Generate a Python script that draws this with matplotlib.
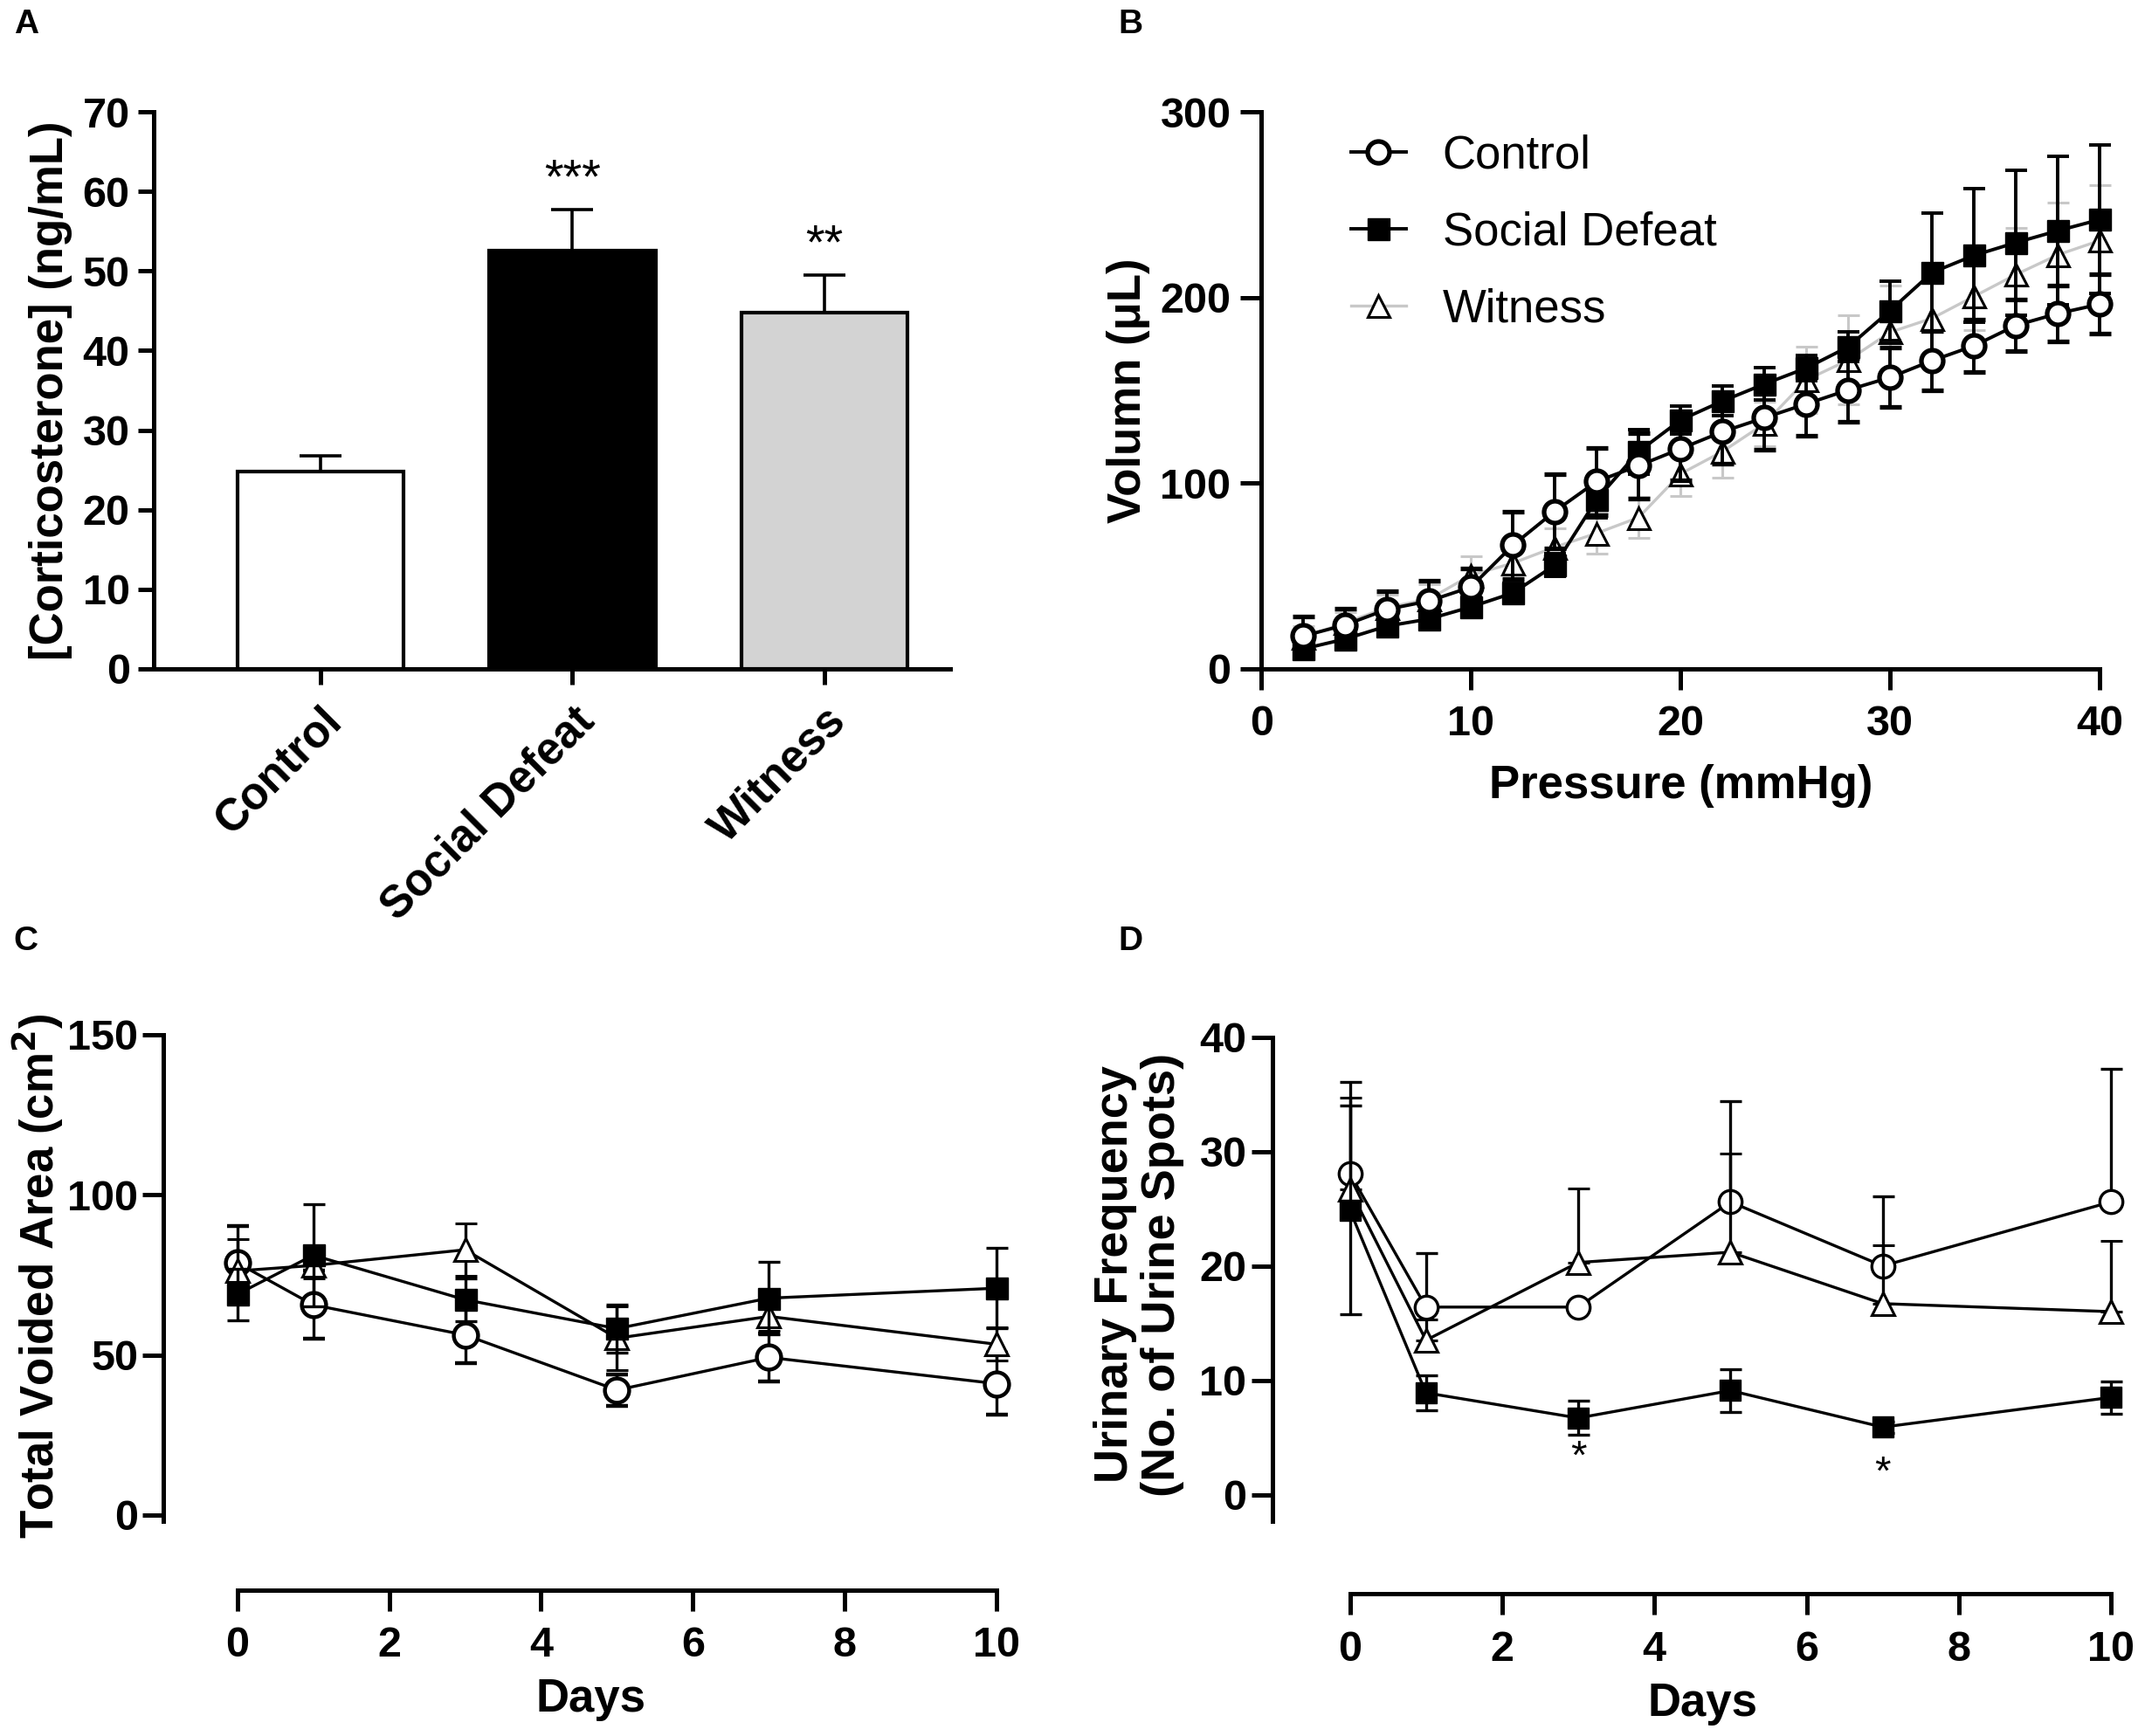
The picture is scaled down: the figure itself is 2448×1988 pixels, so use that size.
import numpy as np
import matplotlib
matplotlib.use("Agg")
import matplotlib.pyplot as plt
from matplotlib.lines import Line2D

plt.rcParams['font.family'] = ['Liberation Sans', 'DejaVu Sans']
plt.rcParams['font.weight'] = 'bold'

# ---- panel A data
groups = ["Control", "Social Defeat", "Witness"]
cort_mean = [24.8, 52.6, 44.8]
cort_err = [2.0, 5.1, 4.7]
bar_colors = ["white", "black", "#d3d3d3"]
stars_a = ["", "***", "**"]

# ---- panel B data
pressure = [2, 4, 6, 8, 10, 12, 14, 16, 18, 20, 22, 24, 26, 28, 30, 32, 34, 36, 38, 40]
vol_ctrl = [17.6, 23.6, 32, 36.5, 44, 66.5, 84.8, 100.9, 109.4, 118.5,
            127.7, 135.2, 142.7, 150.2, 157, 166, 174, 185, 191.4, 196.4]
vol_ctrl_err = [10.7, 9, 10, 10.7, 10, 18, 20, 18, 17.6, 17,
                17, 17, 17, 17, 16, 16, 14, 14, 15, 16]
vol_sd = [10.7, 16, 23, 26.8, 33.3, 40.8, 55.8, 91.2, 117, 134,
          144.2, 153.4, 162, 173.4, 193, 213.5, 222.7, 229.6, 236, 242]
vol_sd_err = [4, 4, 4, 4, 5, 5, 6, 10, 12, 7.6,
              8, 8.6, 7, 8, 16, 32, 36, 39, 40, 40]
vol_wit = [17, 24.7, 33, 37.5, 50.4, 56.9, 65.5, 73, 81.5, 105,
           117, 132, 155.6, 166.3, 181.3, 188.8, 200.6, 212.4, 223, 230.7]
vol_wit_err = [6, 6, 7, 8, 10, 10, 10, 11, 11, 12,
               14, 12, 18, 24, 25, 22, 18, 25, 28, 30]

# ---- panel C data
days = [0, 1, 3, 5, 7, 10]
area_ctrl = [78.7, 65.6, 56.2, 39, 49.2, 41]
area_ctrl_err = [11.5, 10.6, 8.7, 5, 7.4, 9.8]
area_sd = [68.9, 81.1, 67.2, 58.2, 67.7, 70.8]
area_sd_err = [8, 16, 6.6, 7.4, 11.3, 12.5]
area_wit = [76.2, 77.9, 82.8, 55.2, 62, 53.3]
area_wit_err = [10, 4, 8.2, 10, 4.6, 5.2]

# ---- panel D data
freq_ctrl = [28.1, 16.4, 16.4, 25.6, 20, 25.6]
freq_ctrl_err = [8, 4.7, 0.5, 8.8, 6.1, 11.6]
freq_sd = [24.9, 8.9, 6.7, 9.1, 5.9, 8.5]
freq_sd_err = [9.1, 1.5, 1.5, 1.9, 0.5, 1.4]
freq_wit = [26.7, 13.5, 20.3, 21.2, 16.7, 16]
freq_wit_err = [8, 1.8, 6.5, 8.6, 5.1, 6.2]
stars_d_x = [3, 7]
stars_d_y = [3.2, 1.8]

W, H = 1568.0, 1272.0  # layout measured on a scaled copy


def frac(x0, y0, x1, y1):
    return [x0 / W, 1 - y1 / H, (x1 - x0) / W, (y1 - y0) / H]


fig = plt.figure(figsize=(24.48, 19.88), dpi=100)

SPW = 3.6
TICKSZ = 35
LABSZ = 38


def style(ax, length, xpad, ypad):
    for s in ['top', 'right']:
        ax.spines[s].set_visible(False)
    for s in ['left', 'bottom']:
        ax.spines[s].set_linewidth(SPW)
    ax.tick_params(width=SPW, length=length, labelsize=TICKSZ)
    ax.tick_params(axis='x', pad=xpad)
    ax.tick_params(axis='y', pad=ypad)
    for lab in ax.get_xticklabels() + ax.get_yticklabels():
        lab.set_fontweight('bold')


# ================= A
axA = fig.add_axes(frac(113, 82, 697, 490))
xa = np.arange(len(groups))
axA.bar(xa, cort_mean, width=0.66, color=bar_colors, edgecolor='black', linewidth=3, zorder=2)
axA.errorbar(xa, cort_mean, yerr=[np.zeros(3), cort_err], fmt='none', ecolor='black',
             elinewidth=2.6, capsize=17, capthick=2.6, zorder=1)
for i, s in enumerate(stars_a):
    if s:
        axA.text(xa[i], cort_mean[i] + cort_err[i] + 0.8, s, ha='center', va='bottom',
                 fontsize=40, fontweight='normal')
axA.set_xlim(-0.66, 2.5)
axA.set_ylim(0, 70)
axA.set_yticks(range(0, 71, 10))
axA.set_xticks(xa)
axA.set_xticklabels(groups, rotation=45, ha='right', rotation_mode='anchor')
style(axA, 13, 12, 7)
axA.tick_params(axis='x', labelsize=37)
axA.set_ylabel("[Corticosterone] (ng/mL)", fontsize=LABSZ, fontweight='bold', labelpad=8)

# ================= B
axB = fig.add_axes(frac(925, 82, 1540, 490))
ms_b = 18
axB.errorbar(pressure, vol_wit, yerr=vol_wit_err, color='#c8c8c8', ecolor='#c8c8c8',
             elinewidth=2.2, capsize=9, capthick=2.2, lw=2.4, marker='^', ms=ms_b,
             mfc='white', mec='black', mew=2.2, clip_on=False, zorder=3)
axB.errorbar(pressure, vol_sd, yerr=vol_sd_err, color='black', ecolor='black',
             elinewidth=2.8, capsize=9, capthick=2.8, lw=2.8, marker='s', ms=ms_b,
             mfc='black', mec='black', clip_on=False, zorder=4)
axB.errorbar(pressure, vol_ctrl, yerr=vol_ctrl_err, color='black', ecolor='black',
             elinewidth=2.8, capsize=9, capthick=2.8, lw=2.8, marker='o', ms=ms_b,
             mfc='white', mec='black', mew=3.8, clip_on=False, zorder=5)
axB.set_xlim(0, 40)
axB.set_ylim(0, 300)
axB.set_xticks(range(0, 41, 10))
axB.set_yticks(range(0, 301, 100))
style(axB, 17, 13, 8)
axB.set_xlabel("Pressure (mmHg)", fontsize=LABSZ, fontweight='bold', labelpad=16)
axB.set_ylabel("Volumn (\u03bcL)", fontsize=LABSZ, fontweight='bold', labelpad=8)
handles = [
    Line2D([], [], color='black', lw=2.8, marker='o', ms=ms_b, mfc='white', mec='black', mew=3.8),
    Line2D([], [], color='black', lw=2.8, marker='s', ms=ms_b, mfc='black', mec='black'),
    Line2D([], [], color='#c8c8c8', lw=2.4, marker='^', ms=ms_b, mfc='white', mec='black', mew=2.2),
]
axB.legend(handles, ["Control", "Social Defeat", "Witness"], loc='upper left',
           bbox_to_anchor=(0.058, 1.035), frameon=False, prop={'size': 38, 'weight': 'normal'},
           handlelength=1.18, handletextpad=0.8, labelspacing=0.72)

# ================= C
axC = fig.add_axes(frac(120, 758, 746, 1165))
ms_c = 19
axC.errorbar(days, area_ctrl, yerr=area_ctrl_err, color='black', elinewidth=2.4, capsize=9,
             capthick=2.4, lw=2.4, marker='o', ms=ms_c + 1, mfc='white', mec='black', mew=3.2,
             clip_on=False, zorder=3)
axC.errorbar(days, area_wit, yerr=area_wit_err, color='black', elinewidth=2.4, capsize=9,
             capthick=2.4, lw=2.4, marker='^', ms=ms_c, mfc='white', mec='black', mew=2.2,
             clip_on=False, zorder=4)
axC.errorbar(days, area_sd, yerr=area_sd_err, color='black', elinewidth=2.4, capsize=9,
             capthick=2.4, lw=2.4, marker='s', ms=ms_c - 1, mfc='black', mec='black',
             clip_on=False, zorder=5)
axC.set_xlim(-0.97, 10.27)
axC.set_ylim(-23.4, 150)
axC.set_xticks(range(0, 11, 2))
axC.set_yticks(range(0, 151, 50))
axC.spines['left'].set_bounds(-2, 150)
axC.spines['bottom'].set_bounds(0, 10)
style(axC, 17, 13, 4)
axC.set_xlabel("Days", fontsize=LABSZ, fontweight='bold', labelpad=10)
axC.set_ylabel("Total Voided Area (cm$^\\mathbf{2}$)", fontsize=LABSZ, fontweight='bold')
axC.yaxis.set_label_coords(-0.115, 0.565)

# ================= D
axD = fig.add_axes(frac(933, 760, 1565, 1168))
axD.errorbar(days, freq_ctrl, yerr=[np.zeros(6), freq_ctrl_err], color='black', elinewidth=2.4,
             capsize=9, capthick=2.4, lw=2.4, marker='o', ms=ms_c, mfc='white', mec='black',
             mew=2.4, clip_on=False, zorder=3)
axD.errorbar(days, freq_wit, yerr=[np.zeros(6), freq_wit_err], color='black', elinewidth=2.4,
             capsize=9, capthick=2.4, lw=2.4, marker='^', ms=ms_c, mfc='white', mec='black',
             mew=2.2, clip_on=False, zorder=4)
axD.errorbar(days, freq_sd, yerr=freq_sd_err, color='black', elinewidth=2.4, capsize=9,
             capthick=2.4, lw=2.4, marker='s', ms=ms_c - 2, mfc='black', mec='black',
             clip_on=False, zorder=5)
for x, y in zip(stars_d_x, stars_d_y):
    axD.text(x, y, "*", ha='center', va='center', fontsize=34, fontweight='normal')
axD.set_xlim(-1.02, 10.3)
axD.set_ylim(-8.7, 40)
axD.set_xticks(range(0, 11, 2))
axD.set_yticks(range(0, 41, 10))
axD.spines['left'].set_bounds(-2.3, 40)
axD.spines['bottom'].set_bounds(0, 10)
style(axD, 17, 13, 4)
axD.set_xlabel("Days", fontsize=LABSZ, fontweight='bold', labelpad=10)
axD.set_ylabel("Urinary Frequency\n(No. of Urine Spots)", fontsize=39, fontweight='bold',
               linespacing=1.1)
axD.yaxis.set_label_coords(-0.102, 0.574)

# panel letters
for lab, x, y in [("A", 10, 18), ("B", 820, 18), ("C", 10, 690), ("D", 820, 690)]:
    fig.text(x / W, 1 - y / H, lab, fontsize=28, fontweight='bold', ha='left', va='center')

fig.savefig("out.png", dpi=100)
